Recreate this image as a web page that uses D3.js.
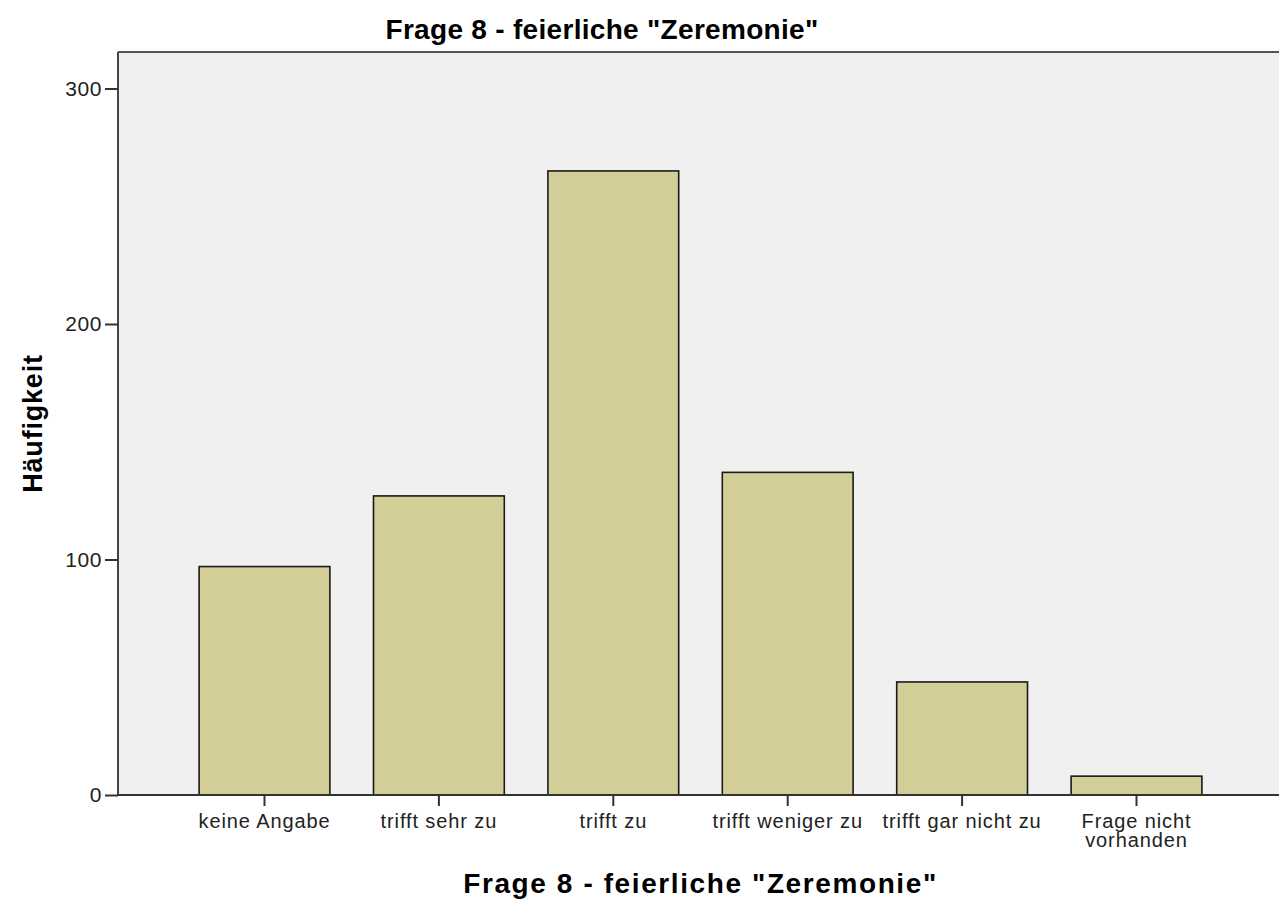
<!DOCTYPE html>
<html>
<head>
<meta charset="utf-8">
<script src="https://cdn.jsdelivr.net/npm/d3@7"></script>
<style>
  html, body { margin: 0; padding: 0; background: #ffffff; }
  svg { display: block; }
  text { font-family: "Liberation Sans", Arial, sans-serif; }
</style>
</head>
<body>
<svg id="chart" width="1279" height="902"></svg>
<script>
const categories = ["keine Angabe", "trifft sehr zu", "trifft zu", "trifft weniger zu", "trifft gar nicht zu", "Frage nicht vorhanden"];
const counts = [97, 127, 265, 137, 48, 8];
const yTicks = [0, 100, 200, 300];
const chartTitle = 'Frage 8 - feierliche "Zeremonie"';
const xTitle = 'Frage 8 - feierliche "Zeremonie"';
const yTitle = "Häufigkeit";

const W = 1279, H = 902;
const plot = { left: 118, top: 52, right: 1283, bottom: 795 };

const svg = d3.select("#chart");

const x = d3.scaleBand()
  .domain(categories)
  .range([plot.left, plot.right])
  .paddingInner(0.25)
  .paddingOuter(0.465);

const y = d3.scaleLinear()
  .domain([0, 315.5])
  .range([plot.bottom, plot.top]);

// plot background
svg.append("rect")
  .attr("x", plot.left).attr("y", plot.top)
  .attr("width", W - plot.left).attr("height", plot.bottom - plot.top)
  .attr("fill", "#f0f0f0");

// bars
svg.append("g").selectAll("rect")
  .data(counts)
  .join("rect")
  .attr("x", (d, i) => x(categories[i]))
  .attr("y", d => y(d))
  .attr("width", x.bandwidth())
  .attr("height", d => y(0) - y(d))
  .attr("fill", "#d3ce98")
  .attr("stroke", "#1a1a1a")
  .attr("stroke-width", 1.6);

// frame: top border
svg.append("line")
  .attr("x1", plot.left).attr("x2", W)
  .attr("y1", plot.top).attr("y2", plot.top)
  .attr("stroke", "#555").attr("stroke-width", 2);

// y axis
const yAxis = svg.append("g")
  .attr("transform", `translate(${plot.left},0)`)
  .call(d3.axisLeft(y).tickValues(yTicks).tickSize(13).tickPadding(3).tickFormat(d3.format("d")));
yAxis.select(".domain").attr("stroke", "#444").attr("stroke-width", 2)
  .attr("d", `M0,${plot.top}V${plot.bottom}`);
yAxis.selectAll(".tick line").attr("stroke", "#333").attr("stroke-width", 2);
yAxis.selectAll(".tick text")
  .attr("font-size", 21).attr("letter-spacing", 0.6).attr("fill", "#222")
  .attr("font-family", '"Liberation Sans", Arial, sans-serif');

// x axis
const xAxis = svg.append("g")
  .attr("transform", `translate(0,${plot.bottom})`)
  .call(d3.axisBottom(x).tickSize(11).tickPadding(8));
xAxis.select(".domain").attr("stroke", "#333").attr("stroke-width", 2)
  .attr("d", `M${plot.left},0H${W}`);
xAxis.selectAll(".tick line").attr("stroke", "#333").attr("stroke-width", 2);
xAxis.selectAll(".tick text")
  .attr("font-size", 20).attr("letter-spacing", 0.9).attr("fill", "#222")
  .attr("font-family", '"Liberation Sans", Arial, sans-serif');

// wrap long labels
xAxis.selectAll(".tick text").each(function(d) {
  const t = d3.select(this);
  if (this.getComputedTextLength() > x.step()) {
    const words = d.split(" ");
    const first = words.slice(0, words.length - 1).join(" ");
    const second = words[words.length - 1];
    const yv = t.attr("y");
    t.text(null);
    t.append("tspan").attr("x", 0).attr("y", yv).attr("dy", "0.71em").text(first);
    t.append("tspan").attr("x", 0).attr("y", yv).attr("dy", "1.66em").text(second);
  }
});

// chart title
svg.append("text")
  .attr("x", 602).attr("y", 39)
  .attr("text-anchor", "middle")
  .attr("font-size", 28).attr("font-weight", "bold").attr("letter-spacing", 0.3)
  .attr("fill", "#000")
  .text(chartTitle);

// x title
svg.append("text")
  .attr("x", (plot.left + plot.right) / 2).attr("y", 893)
  .attr("text-anchor", "middle")
  .attr("font-size", 28).attr("font-weight", "bold").attr("letter-spacing", 1.6)
  .attr("fill", "#000")
  .text(xTitle);

// y title
svg.append("text")
  .attr("transform", `translate(42,${(plot.top + plot.bottom) / 2}) rotate(-90)`)
  .attr("text-anchor", "middle")
  .attr("font-size", 27).attr("font-weight", "bold").attr("letter-spacing", 0.8)
  .attr("fill", "#000")
  .text(yTitle);
</script>
</body>
</html>
